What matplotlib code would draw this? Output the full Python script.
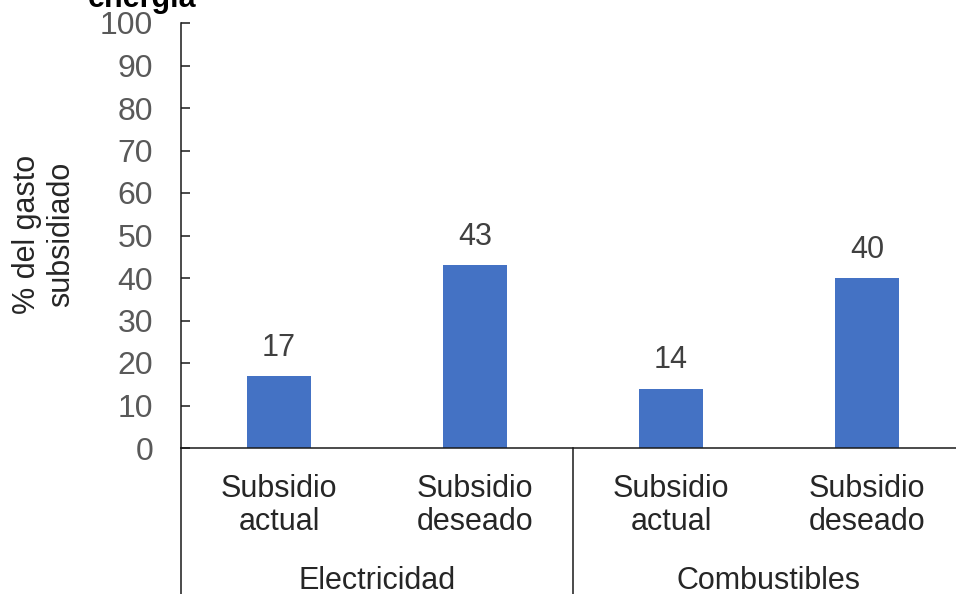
import matplotlib
matplotlib.use("Agg")
import matplotlib.pyplot as plt
from matplotlib.lines import Line2D

plt.rcParams['font.family'] = ['Liberation Sans', 'DejaVu Sans']

# Data
groups = ["Electricidad", "Combustibles"]
categories = ["Subsidio\nactual", "Subsidio\ndeseado", "Subsidio\nactual", "Subsidio\ndeseado"]
values = [17, 43, 14, 40]
yticks = [0, 10, 20, 30, 40, 50, 60, 70, 80, 90, 100]

W, H, DPI = 956, 594, 100
fig = plt.figure(figsize=(W / DPI, H / DPI), dpi=DPI)

def fx(px):
    return px / W

def fy(py):
    return 1 - py / H

ax_left, ax_right, ax_top, ax_bottom = 181, 965, 23, 448
ax = fig.add_axes([fx(ax_left), fy(ax_bottom), fx(ax_right - ax_left), (ax_bottom - ax_top) / H])

bar_color = "#4472C4"
x = list(range(len(values)))
bars = ax.bar(x, values, width=0.33, color=bar_color, zorder=2)

ax.set_xlim(-0.5, len(values) - 0.5)
ax.set_ylim(0, 100)
ax.set_yticks(yticks)
ax.set_yticklabels([str(t) for t in yticks])
ax.tick_params(axis='y', direction='in', length=6.5, width=1.1, color='#1a1a1a',
               labelsize=23, labelcolor='#595959', pad=20)
ax.set_xticks([])

for s in ('top', 'right'):
    ax.spines[s].set_visible(False)
for s in ('left', 'bottom'):
    ax.spines[s].set_color('#1a1a1a')
    ax.spines[s].set_linewidth(1.1)

# Value labels above bars
for xi, v in zip(x, values):
    ax.annotate(str(v), (xi, v), xytext=(0, 14.5), textcoords='offset points',
                ha='center', va='baseline', fontsize=22, color='#404040')

# Category labels below the axis
trans = ax.get_xaxis_transform()
for xi, lab in zip(x, categories):
    ax.text(xi, -0.062, lab, transform=trans, ha='center', va='top',
            fontsize=22, color='#262626', linespacing=1.12, multialignment='center')

# Group labels
for gi, g in enumerate(groups):
    ax.text(gi * 2 + 0.5, -0.312, g, transform=trans, ha='center', va='center',
            fontsize=22, color='#262626')

# Vertical dividers of the multi-level category axis
for xd in (-0.5, 1.5):
    ax.add_line(Line2D([xd, xd], [0, -0.5], transform=trans, color='#1a1a1a',
                       linewidth=1.1, clip_on=False))

# Y-axis title
fig.text(fx(44), fy(234), "% del gasto\nsubsidiado", rotation=90, ha='center', va='center',
         fontsize=22, color='#262626', linespacing=1.2, multialignment='center')

# Chart title (last line)
fig.text(fx(88), fy(7), "energía", ha='left', va='baseline', fontsize=22,
         fontweight='bold', color='#000000')

fig.savefig("out.png", dpi=DPI, facecolor='white')
